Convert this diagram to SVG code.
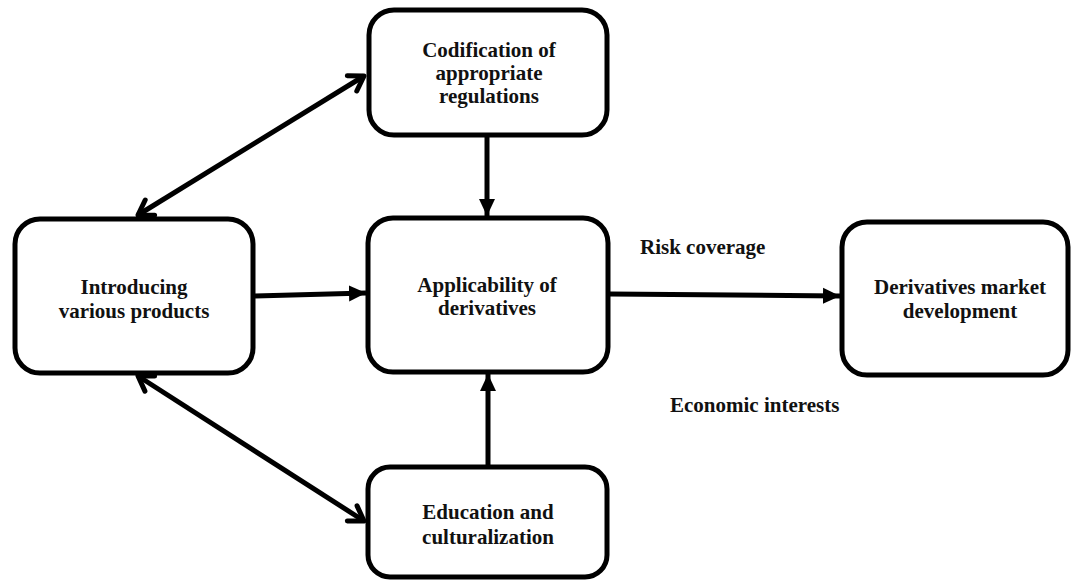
<svg xmlns="http://www.w3.org/2000/svg" width="1072" height="580" viewBox="0 0 1072 580">
<defs>
<style>
.box{fill:#fff;stroke:#000;stroke-width:5}
.t{font-family:"Liberation Serif","Times New Roman",serif;font-weight:bold;font-size:21px;fill:#111;text-anchor:middle}
.l{font-family:"Liberation Serif","Times New Roman",serif;font-weight:bold;font-size:21px;fill:#111}
.c{stroke:#000;stroke-width:5;fill:none}
</style>
<marker id="fa" markerUnits="userSpaceOnUse" markerWidth="18" markerHeight="18" refX="17" refY="8" orient="auto" viewBox="0 0 18 16">
<path d="M0,0 L17,8 L0,16 z" fill="#000"/>
</marker>
<marker id="oa" markerUnits="userSpaceOnUse" markerWidth="24" markerHeight="24" refX="19" refY="12" orient="auto-start-reverse" viewBox="0 0 24 24">
<path d="M5,3 L19,12 L5,21" fill="none" stroke="#000" stroke-width="5" stroke-linecap="round" stroke-linejoin="round"/>
</marker>
</defs>
<rect width="1072" height="580" fill="#fff"/>
<g id="connectors">
<line class="c" x1="487" y1="137" x2="487" y2="216" marker-end="url(#fa)"/>
<line class="c" x1="488" y1="466" x2="488" y2="374" marker-end="url(#fa)"/>
<line class="c" x1="255" y1="296" x2="366" y2="293" marker-end="url(#fa)"/>
<line class="c" x1="610" y1="294" x2="840" y2="296" marker-end="url(#fa)"/>
<line class="c" x1="138" y1="215" x2="364" y2="76" marker-start="url(#oa)" marker-end="url(#oa)"/>
<line class="c" x1="138" y1="376" x2="364" y2="521" marker-start="url(#oa)" marker-end="url(#oa)"/>
</g>
<g id="codification">
<rect class="box" x="369" y="10" width="238" height="125" rx="25"/>
<text class="t" x="489" y="57">Codification of</text>
<text class="t" x="489" y="80">appropriate</text>
<text class="t" x="489" y="103">regulations</text>
</g>
<g id="introducing">
<rect class="box" x="15" y="219" width="238" height="154" rx="25"/>
<text class="t" x="134" y="294">Introducing</text>
<text class="t" x="134" y="318">various products</text>
</g>
<g id="applicability">
<rect class="box" x="368" y="218" width="240" height="154" rx="25"/>
<text class="t" x="487" y="292">Applicability of</text>
<text class="t" x="487" y="315">derivatives</text>
</g>
<g id="market">
<rect class="box" x="842" y="222" width="226" height="153" rx="25"/>
<text class="t" x="960" y="294">Derivatives market</text>
<text class="t" x="960" y="318">development</text>
</g>
<g id="education">
<rect class="box" x="368" y="467" width="239" height="110" rx="22"/>
<text class="t" x="488" y="519">Education and</text>
<text class="t" x="488" y="544">culturalization</text>
</g>
<g id="labels">
<text class="l" x="640" y="254">Risk coverage</text>
<text class="l" x="670" y="412">Economic interests</text>
</g>
</svg>
